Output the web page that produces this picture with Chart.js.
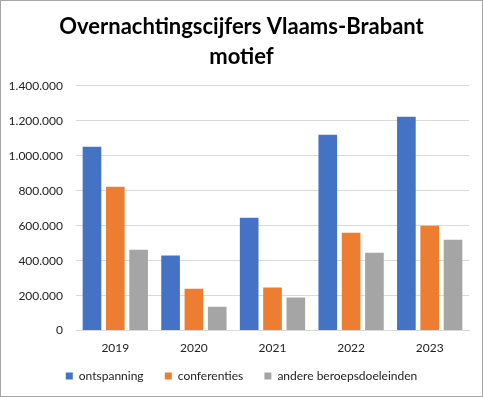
<!DOCTYPE html>
<html>
<head>
<meta charset="utf-8">
<script src="https://cdn.jsdelivr.net/npm/chart.js@4.4.0/dist/chart.umd.min.js"></script>
<style>
  html, body { margin: 0; padding: 0; background: #fff; }
  #wrap { width: 483px; height: 397px; box-sizing: border-box; border: 1px solid #A6A6A6; position: relative; }
  canvas { position: absolute; left: 0; top: 0; }
</style>
</head>
<body>
<div id="wrap"><canvas id="chart" width="481" height="395"></canvas></div>
<script>
const years = ["2019", "2020", "2021", "2022", "2023"];
const ontspanning = [1051000, 429000, 646000, 1120000, 1223000];
const conferenties = [823000, 240000, 246000, 560000, 600000];
const andere = [463000, 137000, 189000, 446000, 520000];
const yTicks = [0, 200000, 400000, 600000, 800000, 1000000, 1200000, 1400000];

// punten als duizendtalscheiding
function fmt(v) {
  return String(v).replace(/\B(?=(\d{3})+(?!\d))/g, ".");
}

const ctx = document.getElementById("chart").getContext("2d");
new Chart(ctx, {
  type: "bar",
  data: {
    labels: years,
    datasets: [
      { label: "ontspanning", data: ontspanning, backgroundColor: "#4472C4" },
      { label: "conferenties", data: conferenties, backgroundColor: "#ED7D31" },
      { label: "andere beroepsdoeleinden", data: andere, backgroundColor: "#A5A5A5" }
    ]
  },
  options: {
    responsive: false,
    animation: false,
    categoryPercentage: 0.89,
    barPercentage: 0.8,
    layout: { padding: { left: 0, right: 0, top: 8, bottom: 4 } },
    plugins: {
      title: {
        display: true,
        text: ["Overnachtingscijfers Vlaams-Brabant", "motief"],
        color: "#000",
        font: { family: "Lato", size: 22, weight: "bold", lineHeight: 1.36 },
        padding: { top: 3, bottom: 14 }
      },
      legend: {
        position: "bottom",
        labels: {
          boxWidth: 7,
          boxHeight: 7,
          color: "#222",
          font: { family: "Lato", size: 12 },
          padding: 12,
          // extra ruimte tussen de items (niet na het laatste)
          generateLabels: function(chart) {
            const items = Chart.defaults.plugins.legend.labels.generateLabels(chart);
            items.forEach((it, i) => {
              if (i < items.length - 1) it.text = it.text + "   ";
            });
            return items;
          }
        }
      },
      tooltip: { enabled: false }
    },
    scales: {
      x: {
        grid: { display: false },
        border: { color: "#D9D9D9" },
        ticks: { color: "#222", font: { family: "Lato", size: 12 }, padding: 2.5, maxRotation: 0 }
      },
      y: {
        min: 0,
        max: 1400000,
        afterBuildTicks: function(scale) {
          scale.ticks = yTicks.map(v => ({ value: v }));
        },
        afterFit: function(scale) { scale.width = 75; },
        grid: { color: "#D9D9D9", drawTicks: false },
        border: { display: false },
        ticks: {
          color: "#222",
          font: { family: "Lato", size: 12 },
          padding: 13,
          callback: v => fmt(v)
        }
      },
      // lege as rechts als marge
      yRight: {
        position: "right",
        grid: { display: false },
        border: { display: false },
        ticks: { display: false },
        afterFit: function(scale) { scale.width = 13; }
      }
    }
  }
});
</script>
</body>
</html>
